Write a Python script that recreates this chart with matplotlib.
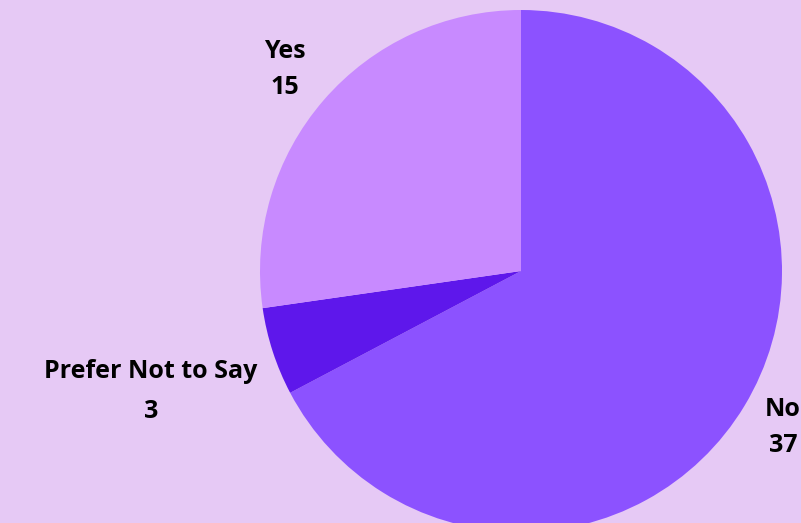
import matplotlib

matplotlib.use("Agg")

import matplotlib.pyplot as plt

labels = ["No", "Prefer Not to Say", "Yes"]
values = [37, 3, 15]
colors = ["#8C52FF", "#5E17EB", "#C88AFF"]
BG = "#E6C9F5"

fig = plt.figure(figsize=(8.01, 5.23), dpi=100)
fig.set_facecolor(BG)
ax = fig.add_axes([0, 0, 1, 1])
ax.set_facecolor(BG)

ax.pie(
    values,
    colors=colors,
    startangle=90,
    counterclock=False,
    center=(521, 252),
    radius=261,
    wedgeprops={"linewidth": 0},
    frame=True,
)
ax.set_xlim(0, 801)
ax.set_ylim(0, 523)
ax.set_aspect("equal")
ax.axis("off")

# label positions (x, y of name line, y of value line) in pixel space
label_pos = {
    "No": (783, 410, 445),
    "Prefer Not to Say": (151, 371, 411),
    "Yes": (285, 52, 88),
}
font = dict(family=["Open Sans", "DejaVu Sans"], fontsize=18, fontweight="bold", color="#000000")
for name, val in zip(labels, values):
    x, y1, y2 = label_pos[name]
    ax.text(x, 523 - y1, name, ha="center", va="center", **font)
    ax.text(x, 523 - y2, str(val), ha="center", va="center", **font)

fig.savefig("out.png", dpi=100, facecolor=fig.get_facecolor())
